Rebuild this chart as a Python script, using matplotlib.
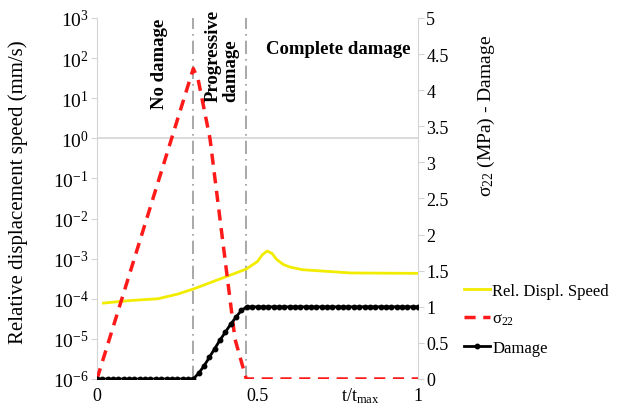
import numpy as np
import matplotlib.pyplot as plt
from matplotlib.lines import Line2D

plt.rcParams['font.family'] = ['Liberation Serif', 'DejaVu Serif']
plt.rcParams['mathtext.fontset'] = 'custom'
plt.rcParams['mathtext.rm'] = 'Liberation Serif'
plt.rcParams['mathtext.it'] = 'Liberation Serif'

# relative displacement speed (mm/s), left log axis
t_speed = [0.02, 0.1, 0.19, 0.25, 0.3, 0.4, 0.465, 0.5, 0.515, 0.53, 0.545,
           0.56, 0.58, 0.6, 0.64, 0.79, 1.0]
speed = [7.8e-5, 9.0e-5, 1.0e-4, 1.3e-4, 1.75e-4, 3.5e-4, 5.5e-4, 8.5e-4,
         1.25e-3, 1.55e-3, 1.35e-3, 9.5e-4, 7.2e-4, 6.2e-4, 5.3e-4, 4.4e-4, 4.3e-4]

# sigma_22 (MPa), right axis
t_sig = [0.0, 0.3, 0.315, 0.352, 0.383, 0.43, 0.465, 1.0]
sig = [0.0, 4.3, 4.15, 3.33, 2.22, 0.55, 0.0, 0.0]

# damage variable, right axis, sampled every 1/60
t_dmg = np.arange(61) / 60
ramp = [0.08, 0.18, 0.30, 0.42, 0.54, 0.65, 0.76, 0.86, 0.95]
damage = [0.0] * 19 + ramp + [1.0] * 33

phase_bounds = [0.3, 0.465]

fig = plt.figure(figsize=(6.19, 4.10), dpi=100)
ax = fig.add_axes([0.1567, 0.0732, 0.5186, 0.8805])
ax2 = ax.twinx()

grey = '#d4d4d4'

ax.set_yscale('log')
ax.set_ylim(1e-6, 1e3)
ax.set_xlim(0, 1)
ax2.set_ylim(0, 5)

for a in (ax, ax2):
    for s in ('top', 'bottom'):
        a.spines[s].set_visible(False)
    a.spines['left'].set_color(grey)
    a.spines['right'].set_color(grey)
ax2.spines['left'].set_visible(False)
ax.spines['right'].set_visible(False)

ax.set_yticks([10.0**k for k in range(-6, 4)])
ax.minorticks_off()
ax.tick_params(axis='y', which='both', color=grey, length=4, labelsize=14, pad=2)
ax.tick_params(axis='x', length=0, labelsize=13, pad=6)
ax.set_xticks([0, 0.5, 1])
ax.set_xticklabels(['0', '0.5', '1'])

ax2.set_yticks(np.arange(0, 5.01, 0.5))
ax2.set_yticklabels(['0', '0.5', '1', '1.5', '2', '2.5', '3', '3.5', '4', '4.5', '5'])
ax2.tick_params(axis='y', color=grey, length=4, labelsize=13, pad=2)

# category axis crossing at 10^0
ax.axhline(1, color=grey, lw=1.2, zorder=1)

for tb in phase_bounds:
    ax.axvline(tb, color='#9a9a9a', lw=1.2, ls=(0, (8, 3, 1, 3)), zorder=2)

ax.plot(t_speed, speed, color='#f2ec00', lw=2, zorder=3)
ax2.plot(t_sig, sig, color='#ff1a1a', lw=2.5, ls=(0, (3.2, 2.2)), zorder=3)
ax2.plot(t_dmg, damage, color='black', lw=2, marker='o', ms=3.2, zorder=4)

ax.set_ylabel('Relative displacement speed (mm/s)', fontsize=15)
ax.yaxis.set_label_coords(-0.215, 0.52)
ax2.set_ylabel('σ$_{22}$ (MPa) - Damage', fontsize=14)
ax2.yaxis.set_label_coords(1.18, 0.73)

ax.text(0.82, -0.045, 't/t$_{\\mathrm{max}}$', transform=ax.transAxes,
        fontsize=13, ha='center', va='center')

ax.text(0.196, 1.0, 'No damage', transform=ax.transAxes, rotation=90,
        fontsize=13.5, fontweight='bold', ha='center', va='top')
ax.text(0.39, 1.025, 'Progressive\ndamage', transform=ax.transAxes, rotation=90,
        fontsize=13.5, fontweight='bold', ha='center', va='top',
        multialignment='left', linespacing=1.05)
ax.text(0.753, 0.915, 'Complete damage', transform=ax.transAxes,
        fontsize=13.5, fontweight='bold', ha='center', va='center')

handles = [
    Line2D([], [], color='#f2ec00', lw=2),
    Line2D([], [], color='#ff1a1a', lw=2.5, ls=(0, (3.2, 2.2))),
    Line2D([], [], color='black', lw=2, marker='o', ms=3.2),
]
fig.legend(handles, ['Rel. Displ. Speed', 'σ$_{22}$', 'Damage'],
           loc='upper left', bbox_to_anchor=(0.725, 0.345), frameon=False,
           fontsize=12, handlelength=1.6, handletextpad=0.1, labelspacing=0.75)

fig.savefig('out.png', dpi=100)
